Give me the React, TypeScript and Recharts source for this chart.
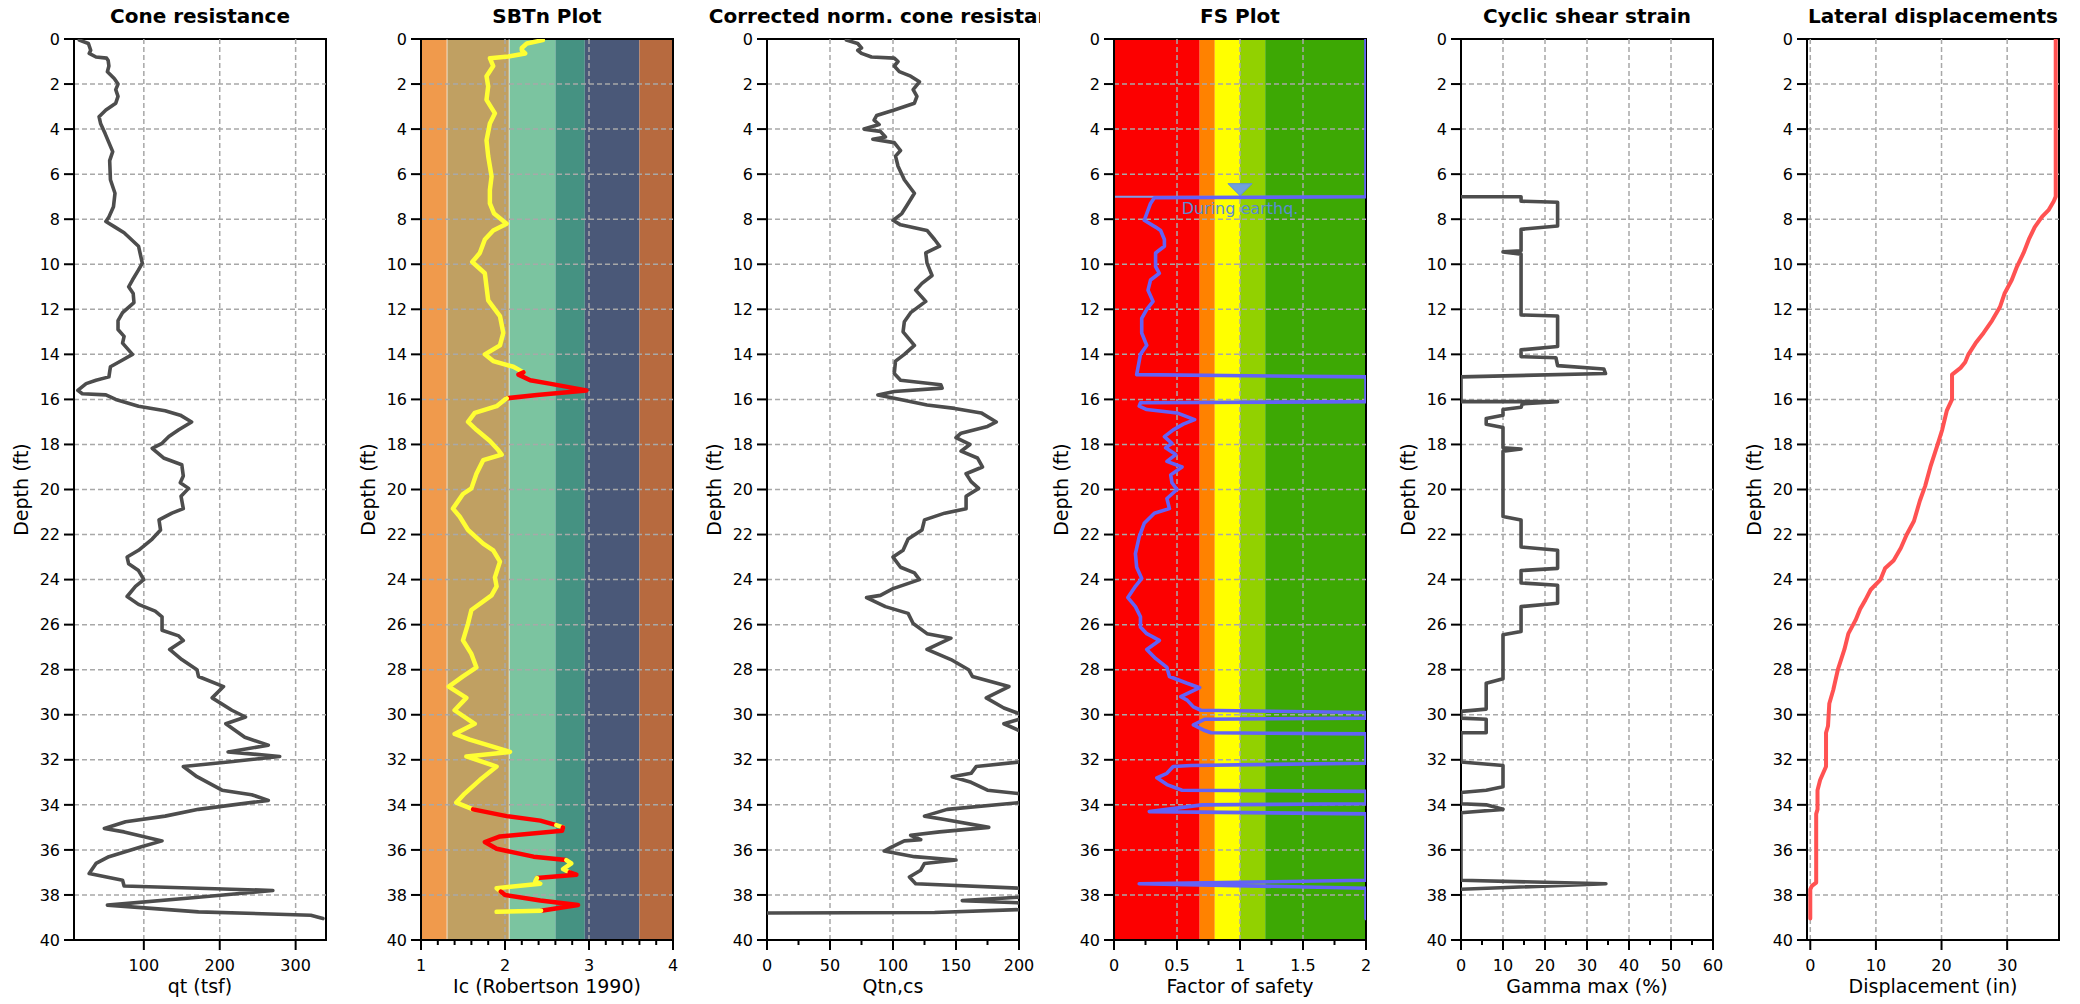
import React from 'react';
import { ScatterChart, Scatter, XAxis, YAxis, ReferenceArea, ReferenceLine, ReferenceDot } from 'recharts';

const FONT = '"DejaVu Sans", Verdana, sans-serif';
const PANEL_W = 347;
const H = 1004;
const panelLefts = [0, 347, 693, 1040, 1387, 1733];
const depthTicks = [0, 2, 4, 6, 8, 10, 12, 14, 16, 18, 20, 22, 24, 26, 28, 30, 32, 34, 36, 38, 40];
const gridDepths = [2, 4, 6, 8, 10, 12, 14, 16, 18, 20, 22, 24, 26, 28, 30, 32, 34, 36, 38];

// ---------- data: [depth (ft), value] ----------
const qtProfile = [
  [0.05, 15], [0.2, 27], [0.5, 30], [0.64, 28], [0.8, 37], [0.85, 51], [0.95, 53], [1.2, 54], [1.45, 52], [1.75, 61],
  [2.0, 66], [2.25, 63], [2.55, 66], [2.85, 63], [3.15, 50], [3.45, 41], [3.75, 43], [4.2, 49], [4.6, 54], [5.0, 59],
  [5.4, 55], [6.25, 56], [6.85, 62], [7.45, 60], [7.9, 54], [8.1, 50], [8.33, 61], [8.6, 74], [9.2, 93], [9.95, 98],
  [10.25, 93], [10.7, 85], [11.0, 80], [11.3, 86], [11.7, 87], [12.15, 72], [12.5, 66], [12.9, 66], [13.2, 74], [13.5, 72],
  [14.0, 85], [14.25, 72], [14.55, 56], [15.0, 54], [15.15, 37], [15.3, 24], [15.6, 13], [15.75, 19], [15.8, 50], [16.0, 63],
  [16.3, 93], [16.5, 128], [16.7, 148], [17.0, 163], [17.35, 146], [17.65, 133], [17.95, 124], [18.17, 111], [18.6, 126], [18.9, 150],
  [19.4, 152], [19.7, 148], [19.95, 159], [20.3, 149], [20.85, 152], [21.05, 137], [21.35, 120], [21.8, 122], [22.2, 111], [22.7, 93],
  [23.0, 78], [23.3, 80], [23.6, 93], [24.0, 100], [24.3, 89], [24.75, 78], [25.1, 93], [25.4, 115], [25.65, 124], [26.25, 124],
  [26.5, 146], [26.7, 152], [27.1, 134], [27.55, 150], [28.0, 170], [28.3, 172], [28.75, 205], [29.25, 190], [29.8, 216], [30.1, 234],
  [30.4, 208], [31.0, 233], [31.35, 264], [31.65, 211], [31.85, 279], [32.1, 211], [32.3, 152], [32.75, 170], [33.35, 203], [33.55, 242],
  [33.8, 264], [34.2, 172], [34.5, 128], [34.75, 76], [35.05, 48], [35.2, 74], [35.6, 124], [35.85, 98], [36.3, 54], [36.6, 37],
  [37.05, 28], [37.35, 72], [37.6, 74], [37.8, 270], [38.1, 172], [38.45, 52], [38.75, 172], [38.9, 320], [39.05, 336],
];

// [depth, Ic, liquefiable flag (1 = red)]
const icProfile = [
  [0.05, 2.45, 0], [0.2, 2.26, 0], [0.4, 2.2, 0], [0.5, 2.2, 0], [0.64, 2.24, 0], [0.78, 2.04, 0], [0.85, 1.82, 0], [1.2, 1.86, 0],
  [1.65, 1.78, 0], [2.1, 1.8, 0], [2.7, 1.78, 0], [3.3, 1.88, 0], [3.75, 1.82, 0], [4.5, 1.78, 0], [5.2, 1.8, 0], [6.1, 1.84, 0],
  [6.7, 1.82, 0], [7.3, 1.82, 0], [7.75, 1.87, 0], [8.2, 2.02, 0], [8.5, 1.86, 0], [8.9, 1.76, 0], [9.5, 1.7, 0], [9.9, 1.61, 0],
  [10.4, 1.76, 0], [11.0, 1.78, 0], [11.6, 1.8, 0], [12.3, 1.94, 0], [13.05, 1.98, 0], [13.6, 1.94, 0], [14.0, 1.76, 0], [14.3, 1.86, 0],
  [14.55, 2.1, 0], [14.8, 2.22, 0], [14.9, 2.16, 1], [15.15, 2.3, 1], [15.3, 2.53, 1], [15.6, 2.97, 1], [15.8, 2.38, 1], [15.95, 2.02, 1],
  [16.0, 2.0, 0], [16.3, 1.9, 0], [16.6, 1.64, 0], [17.0, 1.56, 0], [17.35, 1.66, 0], [17.85, 1.82, 0], [18.25, 1.92, 0], [18.45, 1.96, 0],
  [18.7, 1.74, 0], [19.3, 1.66, 0], [19.95, 1.6, 0], [20.2, 1.5, 0], [20.85, 1.38, 0], [21.2, 1.46, 0], [21.8, 1.56, 0], [22.4, 1.74, 0],
  [22.7, 1.86, 0], [23.2, 1.94, 0], [23.9, 1.88, 0], [24.3, 1.9, 0], [24.7, 1.84, 0], [25.35, 1.6, 0], [25.95, 1.56, 0], [26.7, 1.5, 0],
  [27.3, 1.6, 0], [27.9, 1.66, 0], [28.3, 1.5, 0], [28.75, 1.33, 0], [29.25, 1.54, 0], [29.8, 1.4, 0], [30.4, 1.64, 0], [30.85, 1.4, 0],
  [31.1, 1.58, 0], [31.65, 2.06, 0], [31.85, 1.54, 0], [32.3, 1.9, 0], [32.9, 1.7, 0], [33.5, 1.52, 0], [33.9, 1.42, 0], [34.2, 1.62, 0],
  [34.5, 2.02, 1], [34.7, 2.42, 1], [34.9, 2.61, 1], [35.0, 2.69, 0], [35.15, 2.68, 1], [35.4, 1.94, 1], [35.65, 1.76, 1], [35.95, 1.9, 1],
  [36.3, 2.34, 1], [36.45, 2.73, 1], [36.6, 2.79, 0], [36.85, 2.69, 0], [37.0, 2.77, 0], [37.1, 2.85, 1], [37.25, 2.38, 1], [37.4, 2.36, 0],
  [37.5, 2.42, 0], [37.7, 1.9, 0], [37.85, 1.95, 0], [38.0, 2.0, 1], [38.25, 2.42, 1], [38.45, 2.87, 1], [38.7, 2.43, 1], [38.75, 1.9, 0],
];

const qtncsProfile = [
  [0.05, 63], [0.2, 72], [0.4, 75], [0.5, 72], [0.64, 75], [0.8, 83], [0.85, 101], [1.0, 104], [1.2, 101], [1.45, 105],
  [1.65, 114], [1.9, 121], [2.25, 116], [2.55, 119], [2.85, 117], [3.15, 101], [3.4, 87], [3.6, 85], [3.8, 89], [4.0, 77],
  [4.1, 90], [4.35, 94], [4.45, 84], [4.6, 101], [4.95, 106], [5.2, 102], [5.65, 104], [6.25, 109], [6.85, 117], [7.3, 112],
  [7.75, 107], [8.05, 100], [8.25, 106], [8.5, 127], [8.9, 133], [9.2, 137], [9.5, 126], [9.95, 127], [10.5, 131], [10.85, 123],
  [11.15, 118], [11.65, 126], [12.15, 114], [12.55, 109], [13.0, 108], [13.6, 117], [14.0, 109], [14.3, 102], [14.85, 101], [15.15, 106],
  [15.35, 138], [15.5, 139], [15.65, 101], [15.8, 88], [15.95, 101], [16.25, 127], [16.4, 149], [16.6, 170], [17.0, 182], [17.2, 175],
  [17.5, 154], [17.7, 150], [18.0, 161], [18.3, 154], [18.6, 167], [19.0, 171], [19.3, 158], [19.65, 162], [19.95, 168], [20.3, 158],
  [20.85, 158], [21.05, 141], [21.35, 125], [21.8, 123], [22.2, 112], [22.7, 108], [23.0, 100], [23.45, 106], [23.7, 117], [24.0, 121],
  [24.4, 100], [24.7, 90], [24.8, 79], [25.2, 94], [25.5, 112], [25.95, 116], [26.4, 127], [26.6, 146], [27.1, 127], [27.55, 146],
  [28.0, 160], [28.3, 163], [28.75, 192], [29.25, 174], [29.7, 188], [29.95, 200], [30.1, 212], [30.2, 200], [30.4, 188], [30.7, 200],
  [30.9, 230], [31.5, 260], [32.0, 240], [32.1, 200], [32.3, 166], [32.6, 162], [32.75, 147], [33.0, 162], [33.35, 175], [33.5, 200],
  [33.7, 240], [33.9, 200], [34.2, 143], [34.5, 125], [34.65, 141], [35.0, 176], [35.2, 137], [35.35, 114], [35.55, 122], [35.6, 109],
  [35.9, 98], [36.05, 93], [36.3, 117], [36.45, 150], [36.6, 125], [36.9, 122], [37.2, 113], [37.5, 118], [37.7, 200], [37.9, 240],
  [38.1, 200], [38.25, 155], [38.35, 200], [38.5, 240], [38.65, 200], [38.78, 133], [38.8, 0],
];

const fsProfile = [
  [0, 2], [7.0, 2], [7.05, 0.32], [7.3, 0.29], [7.75, 0.26], [8.05, 0.24], [8.35, 0.33], [8.5, 0.37], [8.9, 0.4], [9.2, 0.4],
  [9.5, 0.33], [10.1, 0.33], [10.4, 0.36], [10.7, 0.29], [11.15, 0.27], [11.65, 0.31], [12.0, 0.26], [12.4, 0.22], [13.05, 0.22], [13.6, 0.26],
  [14.0, 0.21], [14.9, 0.18], [15.0, 2], [16.1, 2], [16.15, 0.21], [16.3, 0.2], [16.45, 0.26], [16.6, 0.5], [16.9, 0.64], [17.1, 0.55],
  [17.35, 0.47], [17.65, 0.4], [17.95, 0.46], [18.15, 0.41], [18.45, 0.49], [18.75, 0.42], [19.0, 0.54], [19.35, 0.45], [19.7, 0.46], [20.0, 0.5],
  [20.4, 0.42], [20.85, 0.44], [21.05, 0.32], [21.5, 0.24], [22.1, 0.2], [22.85, 0.17], [23.45, 0.18], [23.95, 0.22], [24.3, 0.17], [24.8, 0.11],
  [25.2, 0.17], [25.65, 0.21], [26.1, 0.21], [26.4, 0.26], [26.7, 0.36], [27.1, 0.26], [27.5, 0.33], [27.9, 0.42], [28.3, 0.44], [28.6, 0.58],
  [28.8, 0.68], [29.2, 0.53], [29.35, 0.58], [29.65, 0.63], [29.8, 0.69], [29.9, 2], [30.15, 2], [30.2, 0.72], [30.45, 0.63], [30.7, 0.72],
  [30.8, 0.77], [30.85, 2], [32.15, 2], [32.25, 0.61], [32.3, 0.47], [32.6, 0.42], [32.8, 0.34], [33.1, 0.42], [33.35, 0.54], [33.4, 2],
  [33.95, 2], [34.0, 0.7], [34.3, 0.28], [34.4, 2], [37.35, 2], [37.5, 0.2], [37.7, 2], [39.05, 2],
];

const gammaProfile = [
  [7.0, 0], [7.0, 14.3], [7.2, 14.3], [7.25, 23], [8.3, 23], [8.45, 14.3], [9.4, 14.3], [9.45, 10], [9.55, 14.3], [12.25, 14.3],
  [12.3, 23], [13.65, 23], [13.8, 14.3], [14.1, 14.3], [14.15, 22.6], [14.5, 23], [14.65, 34], [14.85, 34.4], [15.0, 0], [16.1, 0],
  [16.1, 23], [16.2, 14.6], [16.35, 14.3], [16.45, 10], [16.7, 10], [16.85, 6], [17.1, 6], [17.25, 10], [18.15, 10], [18.2, 14.3],
  [18.3, 10], [21.2, 10], [21.35, 14.3], [22.55, 14.3], [22.7, 23], [23.5, 23], [23.6, 14.3], [24.15, 14.3], [24.25, 23], [25.05, 23],
  [25.2, 14.3], [26.3, 14.3], [26.45, 10], [28.4, 10], [28.6, 6], [29.75, 6], [29.85, 0], [30.15, 0], [30.2, 6], [30.8, 6],
  [30.8, 0], [32.1, 0], [32.25, 10], [33.2, 10], [33.35, 6], [33.45, 0], [33.95, 0], [34.0, 6], [34.2, 10], [34.35, 0],
  [37.35, 0], [37.5, 34.5], [37.75, 0],
];

const dispProfile = [
  [0, 37.4], [7.0, 37.4], [7.2, 37.1], [7.6, 36.3], [7.9, 35.3], [8.35, 34.2], [8.9, 33.3], [9.5, 32.5], [10.1, 31.5], [10.7, 30.7],
  [11.3, 29.6], [11.9, 28.9], [12.5, 27.7], [13.05, 26.4], [13.5, 25.2], [14.0, 24.1], [14.35, 23.6], [14.6, 22.9], [14.9, 21.6], [16.0, 21.6],
  [16.5, 20.8], [17.35, 20.1], [18.1, 19.3], [19.0, 18.3], [19.85, 17.5], [20.5, 16.7], [21.4, 15.8], [22.0, 14.7], [22.6, 13.8], [23.15, 12.7],
  [23.5, 11.4], [24.0, 10.7], [24.45, 9.2], [24.9, 8.4], [25.3, 7.6], [25.8, 6.9], [26.4, 5.8], [27.1, 5.2], [28.0, 4.2], [28.9, 3.5],
  [29.5, 2.9], [30.5, 2.7], [30.8, 2.4], [32.3, 2.4], [32.9, 1.5], [33.35, 1.1], [34.2, 1.1], [34.4, 0.9], [37.45, 0.9], [37.6, 0.25],
  [37.75, 0], [39.05, 0],
];

// zone bands: [from, to, color]
const sbtBands = [
  [1, 1.31, '#F09A4C'], [1.31, 2.05, '#C0A062'], [2.05, 2.6, '#7BC4A0'], [2.6, 2.95, '#459282'], [2.95, 3.6, '#4A5878'], [3.6, 4, '#B76A3F'],
];
const fsBands = [
  [0, 0.68, '#FC0000'], [0.68, 0.8, '#FF8200'], [0.8, 1.0, '#FFFF00'], [1.0, 1.2, '#92D100'], [1.2, 2, '#3DA804'],
];

// ---------- helpers ----------
const toPts = (arr: any[]) => arr.map((r) => ({ x: r[1], y: r[0] }));

function splitByFlag(profile: any[]) {
  const segs: any[] = [];
  let cur: any = null;
  for (let i = 1; i < profile.length; i++) {
    const a = profile[i - 1];
    const b = profile[i];
    const flag = b[2];
    if (!cur || cur.flag !== flag) {
      cur = { flag, pts: [{ x: a[1], y: a[0] }] };
      segs.push(cur);
    }
    cur.pts.push({ x: b[1], y: b[0] });
  }
  return segs;
}

const NoDot = () => null;

function XTick(props: any) {
  const { x, y, payload, majors, fmt } = props;
  const v = payload.value;
  const isMajor = majors.some((m: number) => Math.abs(m - v) < 1e-9);
  const y0 = y - 10;
  return (
    <g>
      <line x1={x} x2={x} y1={y0} y2={y0 + (isMajor ? 10 : 5)} stroke="#000" strokeWidth={2} />
      {isMajor && (
        <text x={x} y={y0 + 31} textAnchor="middle" fontSize={16} fontFamily={FONT} fill="#000">
          {fmt ? fmt(v) : String(v)}
        </text>
      )}
    </g>
  );
}

function Panel(props: any) {
  const { left, title, xLabel, domain, majors, minors, gridX, bands, series, extras, separators } = props;
  const allTicks = [...majors, ...(minors || [])].sort((a, b) => a - b);
  const plotL = 74;
  const plotW = 252;
  return (
    <div style={{ position: 'absolute', left, top: 0, width: PANEL_W, height: H, overflow: 'hidden' }}>
      <ScatterChart width={PANEL_W} height={H} margin={{ top: 39, right: 21, bottom: 4, left: 14 }}>
        <XAxis
          type="number"
          dataKey="x"
          domain={domain}
          allowDataOverflow
          ticks={allTicks}
          interval={0}
          height={60}
          tickSize={10}
          tickMargin={0}
          tickLine={false}
          axisLine={{ stroke: '#000', strokeWidth: 2 }}
          tick={(p: any) => <XTick {...p} majors={majors} />}
        />
        <YAxis
          type="number"
          dataKey="y"
          domain={[0, 40]}
          reversed
          allowDataOverflow
          ticks={depthTicks}
          interval={0}
          width={60}
          tickSize={10}
          tickMargin={4}
          tickLine={{ stroke: '#000', strokeWidth: 2 }}
          axisLine={{ stroke: '#000', strokeWidth: 2 }}
          tick={{ fill: '#000', fontSize: 16, fontFamily: FONT }}
        />
        {(bands || []).map((b: any, i: number) => (
          <ReferenceArea key={'b' + i} x1={b[0]} x2={b[1]} y1={0} y2={40} fill={b[2]} fillOpacity={1} stroke="none" />
        ))}
        {(separators || []).map((s: number, i: number) => (
          <ReferenceLine key={'s' + i} x={s} stroke="rgba(255,255,255,0.45)" strokeWidth={1.5} />
        ))}
        {gridDepths.map((d) => (
          <ReferenceLine key={'gh' + d} y={d} stroke="#A8A8A8" strokeWidth={1.5} strokeDasharray="5 3" />
        ))}
        {gridX.map((v: number) => (
          <ReferenceLine key={'gv' + v} x={v} stroke="#A8A8A8" strokeWidth={1.5} strokeDasharray="5 3" />
        ))}
        <ReferenceArea x1={domain[0]} x2={domain[1]} y1={0} y2={40} fill="none" fillOpacity={0} stroke="#000" strokeWidth={2} />
        {extras}
        {series.map((s: any, i: number) => (
          <Scatter
            key={'sr' + i}
            data={s.pts}
            fill={s.color}
            line={{ stroke: s.color, strokeWidth: s.width, strokeLinejoin: 'round', strokeLinecap: 'round' }}
            lineJointType="linear"
            shape={NoDot}
            isAnimationActive={false}
          />
        ))}
      </ScatterChart>
      <svg width={PANEL_W} height={H} style={{ position: 'absolute', left: 0, top: 0, pointerEvents: 'none' }}>
        <text x={plotL + plotW / 2} y={23} textAnchor="middle" fontWeight="bold" fontSize={20} fontFamily={FONT} fill="#000">
          {title}
        </text>
        <text x={plotL + plotW / 2} y={993} textAnchor="middle" fontSize={19} fontFamily={FONT} fill="#000">
          {xLabel}
        </text>
        <text transform="translate(28,489.5) rotate(-90)" textAnchor="middle" fontSize={19} fontFamily={FONT} fill="#000">
          Depth (ft)
        </text>
      </svg>
    </div>
  );
}

const GRAY = '#4D4D4D';

export default function App() {
  const icSegs = splitByFlag(icProfile);
  const fsExtras = [
    <ReferenceLine
      key="wt"
      y={7}
      stroke="#7C9CE8"
      strokeWidth={2}
      label={{ value: 'During earthq.', position: 'bottom', fill: '#5B8CD4', fontSize: 16, fontFamily: FONT, offset: 6 }}
    />,
    <ReferenceDot
      key="tri"
      x={1}
      y={7}
      r={1}
      shape={(p: any) => (
        <polygon
          points={`${p.cx - 12},${p.cy - 13} ${p.cx + 12},${p.cy - 13} ${p.cx},${p.cy - 1}`}
          fill="#6FA0DC"
          stroke="#5E8FD6"
          strokeWidth={1}
        />
      )}
    />,
  ];
  return (
    <div style={{ position: 'absolute', left: 0, top: 0, width: 2080, height: H, background: '#fff', fontFamily: FONT }}>
      <Panel
        left={panelLefts[0]}
        title="Cone resistance"
        xLabel="qt (tsf)"
        domain={[8, 340]}
        majors={[100, 200, 300]}
        minors={[]}
        gridX={[100, 200, 300]}
        series={[{ pts: toPts(qtProfile), color: GRAY, width: 3.6 }]}
      />
      <Panel
        left={panelLefts[1]}
        title="SBTn Plot"
        xLabel="Ic (Robertson 1990)"
        domain={[1, 4]}
        majors={[1, 2, 3, 4]}
        minors={[1.2, 1.4, 1.6, 1.8, 2.2, 2.4, 2.6, 2.8, 3.2, 3.4, 3.6, 3.8]}
        gridX={[2, 3]}
        bands={sbtBands}
        separators={[1.31, 2.05]}
        series={icSegs.map((s: any) => ({ pts: s.pts, color: s.flag ? '#FF0000' : '#FFFF33', width: 4.5 }))}
      />
      <Panel
        left={panelLefts[2]}
        title="Corrected norm. cone resistance"
        xLabel="Qtn,cs"
        domain={[0, 200]}
        majors={[0, 50, 100, 150, 200]}
        minors={[25, 75, 125, 175]}
        gridX={[50, 100, 150]}
        series={[{ pts: toPts(qtncsProfile), color: GRAY, width: 3.6 }]}
      />
      <Panel
        left={panelLefts[3]}
        title="FS Plot"
        xLabel="Factor of safety"
        domain={[0, 2]}
        majors={[0, 0.5, 1, 1.5, 2]}
        minors={[0.25, 0.75, 1.25, 1.75]}
        gridX={[0.5, 1, 1.5]}
        bands={fsBands}
        extras={fsExtras}
        series={[{ pts: toPts(fsProfile), color: '#6262F8', width: 3.6 }]}
      />
      <Panel
        left={panelLefts[4]}
        title="Cyclic shear strain"
        xLabel="Gamma max (%)"
        domain={[0, 60]}
        majors={[0, 10, 20, 30, 40, 50, 60]}
        minors={[5, 15, 25, 35, 45, 55]}
        gridX={[10, 20, 30, 40, 50]}
        series={[{ pts: toPts(gammaProfile), color: GRAY, width: 3.6 }]}
      />
      <Panel
        left={panelLefts[5]}
        title="Lateral displacements"
        xLabel="Displacement (in)"
        domain={[-0.5, 37.9]}
        majors={[0, 10, 20, 30]}
        minors={[]}
        gridX={[0, 10, 20, 30]}
        series={[{ pts: toPts(dispProfile), color: '#FF5252', width: 4 }]}
      />
    </div>
  );
}
